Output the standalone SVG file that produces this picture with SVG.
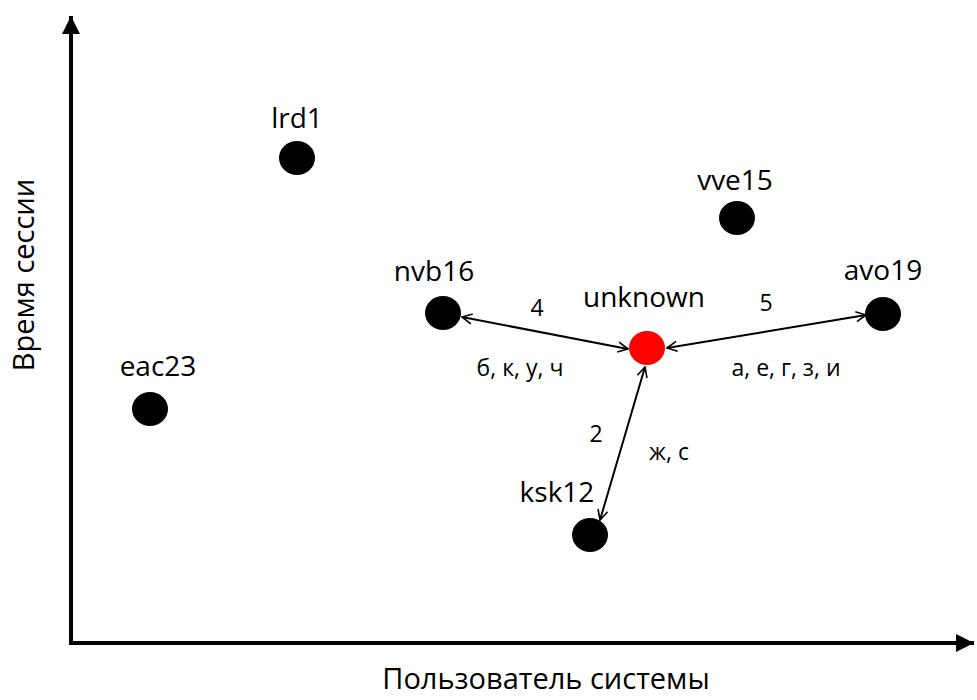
<svg xmlns="http://www.w3.org/2000/svg" width="977" height="700" viewBox="0 0 977 700">
<defs>
<marker id="axisArrow" viewBox="0 0 10 10" refX="10" refY="5" markerWidth="4.5" markerHeight="4.5" markerUnits="strokeWidth" orient="auto">
<path d="M0,0 L10,5 L0,10 Z" fill="#000"/>
</marker>
<marker id="open" viewBox="0 0 12 12" refX="11" refY="6" markerWidth="12" markerHeight="12" markerUnits="userSpaceOnUse" orient="auto-start-reverse">
<path d="M1,1 L11,6 L1,11" fill="none" stroke="#000" stroke-width="1.6"/>
</marker>
</defs>
<style>
.axis{stroke:#000;stroke-width:4;fill:none}
.edge{stroke:#000;stroke-width:2;fill:none}
.node{fill:#000}
.lbl{font-family:"Open Sans","DejaVu Sans",sans-serif;font-size:28px;fill:#000;text-anchor:middle}
.elbl{font-family:"Open Sans","DejaVu Sans",sans-serif;font-size:23px;fill:#000;text-anchor:middle}
.title{font-family:"Open Sans","DejaVu Sans",sans-serif;font-size:29px;fill:#000;text-anchor:middle}
</style>
<rect width="977" height="700" fill="#fff"/>
<g id="axes">
<line class="axis" x1="71" y1="645" x2="71" y2="16" marker-end="url(#axisArrow)"/>
<line class="axis" x1="69" y1="643" x2="974" y2="643" marker-end="url(#axisArrow)"/>
<text class="title" transform="translate(34,275) rotate(-90)">Время сессии</text>
<text class="title" x="546" y="689">Пользователь системы</text>
</g>
<g id="connectors">
<line class="edge" x1="462" y1="317" x2="628" y2="349" marker-start="url(#open)" marker-end="url(#open)"/>
<line class="edge" x1="866" y1="315" x2="667" y2="348" marker-start="url(#open)" marker-end="url(#open)"/>
<line class="edge" x1="600" y1="520" x2="645" y2="367" marker-start="url(#open)" marker-end="url(#open)"/>
<text class="elbl" x="537" y="316">4</text>
<text class="elbl" x="520" y="376">б, к, у, ч</text>
<text class="elbl" x="766" y="311">5</text>
<text class="elbl" x="786" y="376">а, е, г, з, и</text>
<text class="elbl" x="596" y="442">2</text>
<text class="elbl" x="669" y="460">ж, с</text>
</g>
<g id="lrd1"><ellipse class="node" cx="297" cy="158" rx="18" ry="17"/><text class="lbl" x="297" y="128">lrd1</text></g>
<g id="vve15"><ellipse class="node" cx="737" cy="218" rx="18" ry="17"/><text class="lbl" x="735" y="190">vve15</text></g>
<g id="nvb16"><ellipse class="node" cx="443" cy="313" rx="18" ry="17"/><text class="lbl" x="434" y="281">nvb16</text></g>
<g id="unknown"><ellipse cx="647" cy="348" rx="18" ry="17" fill="#ff0000"/><text class="lbl" x="644" y="307">unknown</text></g>
<g id="avo19"><ellipse class="node" cx="883" cy="314" rx="18" ry="17"/><text class="lbl" x="883" y="280">avo19</text></g>
<g id="eac23"><ellipse class="node" cx="150" cy="409" rx="18" ry="17"/><text class="lbl" x="158" y="376">eac23</text></g>
<g id="ksk12"><ellipse class="node" cx="590" cy="535" rx="18" ry="17"/><text class="lbl" x="557" y="502">ksk12</text></g>
</svg>
